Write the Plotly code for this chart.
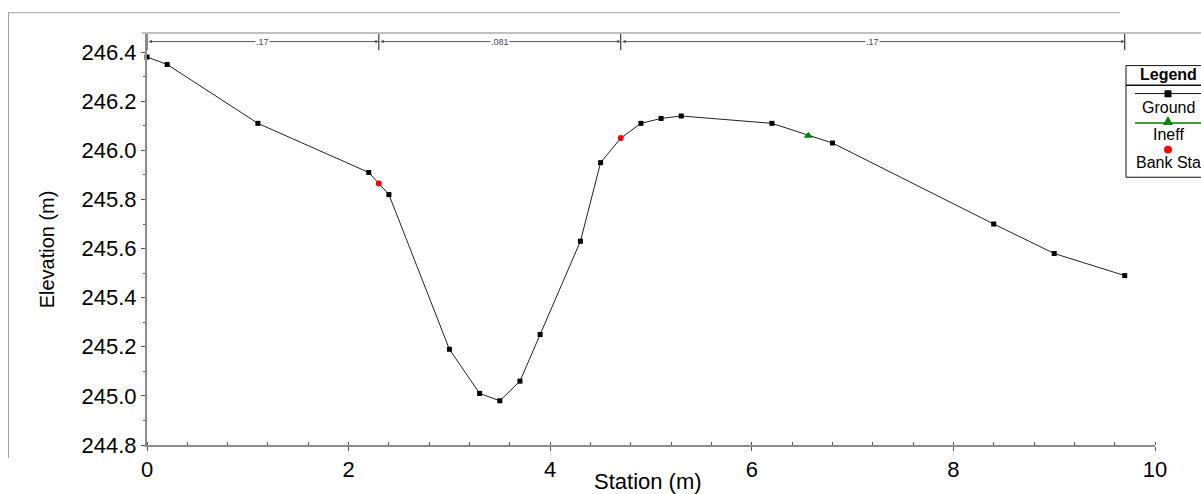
import plotly.graph_objects as go

# Cross-section ground profile
ground_station = [0.0, 0.2, 1.1, 2.2, 2.4, 3.0, 3.3, 3.5, 3.7, 3.9, 4.3, 4.5, 4.7,
                  4.9, 5.1, 5.3, 6.2, 6.8, 8.4, 9.0, 9.7]
ground_elev = [246.38, 246.35, 246.11, 245.91, 245.82, 245.19, 245.01, 244.98, 245.06,
               245.25, 245.63, 245.95, 246.05, 246.11, 246.13, 246.14, 246.11, 246.03,
               245.70, 245.58, 245.49]

# Bank stations and ineffective flow marker
bank_station = [2.3, 4.7]
bank_elev = [245.865, 246.05]
ineff_station = [6.56]
ineff_elev = [246.06]

# Manning's n regions
n_breaks = [0.0, 2.3, 4.7, 9.7]
n_values = [".17", ".081", ".17"]

# Axes
x_range = [0, 10]
y_range = [244.8, 246.478]
x_title = "Station (m)"
y_title = "Elevation (m)"
legend_title = "Legend"
legend_labels = ["Ground", "Ineff", "Bank Sta"]

W, H = 1201, 494
ML, MR, MT, MB = 147, 46, 33, 44
PW, PH = W - ML - MR, H - MT - MB


def px(x):
    return (x - ML) / PW


def py(y):
    return 1 - (y - MT) / PH


FONT = "Liberation Sans, Arial, sans-serif"

fig = go.Figure()

# ground line (all vertices)
fig.add_trace(go.Scatter(
    x=ground_station, y=ground_elev, mode="lines",
    line=dict(color="#222222", width=1), hoverinfo="skip", showlegend=False))

# ground point markers (bank station vertices are shown as bank markers)
gx = [s for s in ground_station if s not in bank_station]
gy = [e for s, e in zip(ground_station, ground_elev) if s not in bank_station]
fig.add_trace(go.Scatter(
    x=gx, y=gy, mode="markers",
    marker=dict(symbol="square", size=5, color="black"),
    showlegend=False, cliponaxis=False))

fig.add_trace(go.Scatter(
    x=bank_station, y=bank_elev, mode="markers",
    marker=dict(symbol="circle", size=6, color="#ff0000"),
    showlegend=False, cliponaxis=False))

fig.add_trace(go.Scatter(
    x=ineff_station, y=ineff_elev, mode="markers",
    marker=dict(symbol="triangle-up", size=8, color="#008000"),
    showlegend=False, cliponaxis=False))

shapes = []
annotations = []


def text_at(x, y, text, size, **kw):
    return dict(x=px(x), y=py(y), xref="paper", yref="paper", text=text,
                showarrow=False, xanchor="center", yanchor="middle",
                font=dict(family=FONT, size=size, color="black"), **kw)


# Manning's n bar along the top
n_y = 246.443
for a, b, label in zip(n_breaks[:-1], n_breaks[1:], n_values):
    annotations.append(dict(
        x=b, y=n_y, ax=a, ay=n_y, xref="x", yref="y", axref="x", ayref="y",
        text="", showarrow=True, arrowside="end+start", arrowhead=2,
        arrowsize=0.7, arrowwidth=1, arrowcolor="#555555"))
    annotations.append(dict(
        x=(a + b) / 2, y=n_y, xref="x", yref="y", text=label, showarrow=False,
        xanchor="center", yanchor="middle",
        font=dict(family=FONT, size=9, color="#4e3a70"), bgcolor="white",
        borderpad=0))
for b in n_breaks:
    shapes.append(dict(type="line", xref="x", yref="y", x0=b, x1=b,
                       y0=246.408, y1=246.478, line=dict(color="#111111", width=1)))

# frame lines
shapes.append(dict(type="line", xref="paper", yref="paper",
                   x0=px(142), x1=px(1201), y0=py(33), y1=py(33),
                   line=dict(color="#c0c0c0", width=2)))
shapes.append(dict(type="line", xref="paper", yref="paper",
                   x0=px(8), x1=px(1120), y0=py(12.5), y1=py(12.5),
                   line=dict(color="#a0a0a0", width=1)))
shapes.append(dict(type="line", xref="paper", yref="paper",
                   x0=px(8.5), x1=px(8.5), y0=py(12.5), y1=py(463),
                   line=dict(color="#a0a0a0", width=1)))

# legend box
LX0, LX1, LY0, LY1 = 1126, 1215, 66, 179
LC = 1168
shapes.append(dict(type="rect", xref="paper", yref="paper",
                   x0=px(LX0), x1=px(LX1), y0=py(LY0), y1=py(LY1),
                   line=dict(color="#111111", width=1), fillcolor="white", layer="above"))
shapes.append(dict(type="line", xref="paper", yref="paper",
                   x0=px(LX0), x1=px(LX1), y0=py(86), y1=py(86),
                   line=dict(color="#111111", width=1.5), layer="above"))
# ground sample
shapes.append(dict(type="line", xref="paper", yref="paper",
                   x0=px(1135), x1=px(1205), y0=py(94.3), y1=py(94.3),
                   line=dict(color="#111111", width=1), layer="above"))
shapes.append(dict(type="rect", xref="paper", yref="paper",
                   x0=px(LC - 3.5), x1=px(LC + 3.5), y0=py(91), y1=py(98),
                   line=dict(width=0), fillcolor="black", layer="above"))
# ineff sample
shapes.append(dict(type="line", xref="paper", yref="paper",
                   x0=px(1135), x1=px(1205), y0=py(124), y1=py(124),
                   line=dict(color="#008000", width=1.5), layer="above"))
tri = "M {:.5f},{:.5f} L {:.5f},{:.5f} L {:.5f},{:.5f} Z".format(
    px(LC - 5), py(126), px(LC + 5), py(126), px(LC), py(117))
shapes.append(dict(type="path", xref="paper", yref="paper", path=tri,
                   line=dict(width=0), fillcolor="#008000", layer="above"))
# bank station sample
shapes.append(dict(type="circle", xref="paper", yref="paper",
                   x0=px(LC - 4), x1=px(LC + 4), y0=py(147), y1=py(155),
                   line=dict(width=0), fillcolor="#ff0000", layer="above"))

annotations.append(text_at(LC, 75.5, "<b>" + legend_title + "</b>", 16))
for lab, yc in zip(legend_labels, [108.3, 136, 164.3]):
    annotations.append(text_at(LC, yc, lab, 16))

# axis titles
annotations.append(text_at(648, 487, x_title, 22))
annotations.append(text_at(47, 252, y_title, 20, textangle=-90))

fig.update_layout(
    width=W, height=H,
    margin=dict(l=ML, r=MR, t=MT, b=MB, pad=0),
    paper_bgcolor="white", plot_bgcolor="white",
    shapes=shapes, annotations=annotations,
    showlegend=False,
    xaxis=dict(range=x_range, tick0=0, dtick=2, showgrid=False, zeroline=False,
               showline=True, linecolor="#8c8c8c", linewidth=2,
               ticks="outside", ticklen=4, tickwidth=1, tickcolor="#555555",
               minor=dict(dtick=0.4, ticks="inside", ticklen=3, tickcolor="#555555"),
               tickfont=dict(family=FONT, size=22, color="black")),
    yaxis=dict(range=y_range, tick0=244.8, dtick=0.2, tickformat=".1f",
               showgrid=False, zeroline=False,
               showline=True, linecolor="#8c8c8c", linewidth=2,
               ticks="outside", ticklen=4, tickwidth=1, tickcolor="#555555",
               minor=dict(dtick=0.1, ticks="outside", ticklen=2, tickcolor="#555555"),
               tickfont=dict(family=FONT, size=22, color="black")),
)

fig.write_html("out.html")
